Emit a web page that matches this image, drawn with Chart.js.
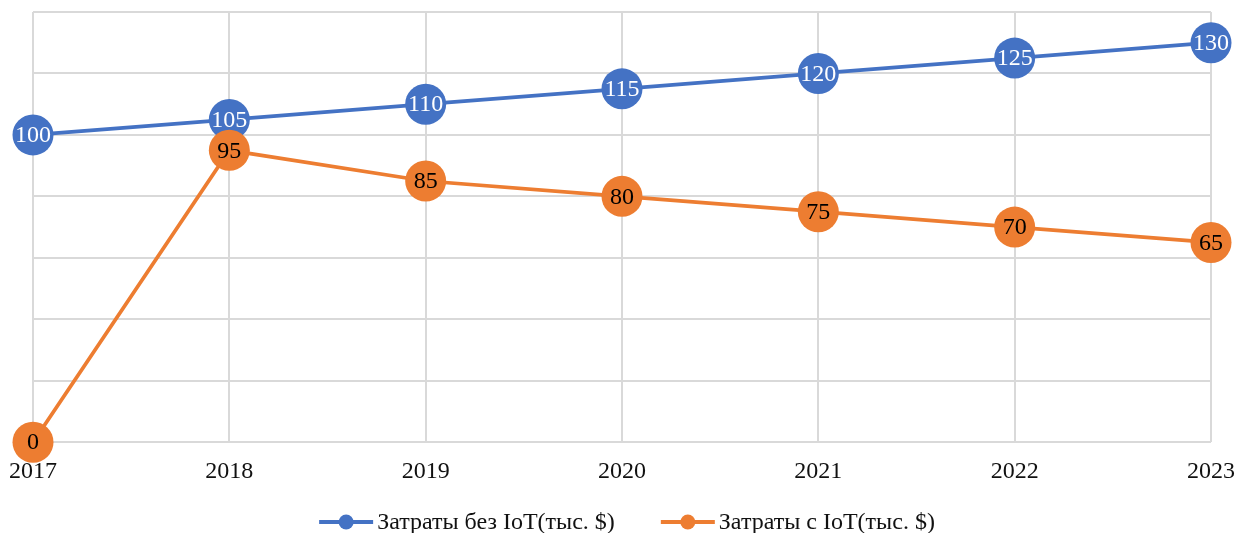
<!DOCTYPE html>
<html>
<head>
<meta charset="utf-8">
<script src="https://cdn.jsdelivr.net/npm/chart.js@4.4.1/dist/chart.umd.min.js"></script>
<style>
  html, body { margin: 0; padding: 0; background: #fff; }
  #wrap { width: 1237px; height: 533px; }
</style>
</head>
<body>
<div id="wrap"><canvas id="chart" width="1237" height="533"></canvas></div>
<script>
/* ── data ── */
const years      = ['2017', '2018', '2019', '2020', '2021', '2022', '2023'];
const withoutIoT = [100, 105, 110, 115, 120, 125, 130];
const withIoT    = [0, 95, 85, 80, 75, 70, 65];
const seriesNames = ['Затраты без IoT(тыс. $)', 'Затраты с IoT(тыс. $)'];

const BLUE   = '#4472C4';
const ORANGE = '#ED7D31';
const FONT   = '"Liberation Serif", "Times New Roman", serif';

/* values written inside the markers */
const pointLabels = {
  id: 'pointLabels',
  afterDatasetsDraw(chart) {
    const ctx = chart.ctx;
    ctx.save();
    ctx.font = '24px ' + FONT;
    ctx.textAlign = 'center';
    ctx.textBaseline = 'middle';
    chart.data.datasets.forEach((ds, i) => {
      const meta = chart.getDatasetMeta(i);
      ctx.fillStyle = ds.labelColor;
      meta.data.forEach((pt, j) => {
        ctx.fillText(String(ds.data[j]), pt.x, pt.y + 1);
      });
    });
    ctx.restore();
  }
};

/* legend in Excel style: short line with a dot, then the name */
const lineLegend = {
  id: 'lineLegend',
  afterDraw(chart) {
    const ctx = chart.ctx;
    const markW = 54, gap = 4, spacing = 46, y = 522;
    ctx.save();
    ctx.font = '24px ' + FONT;
    ctx.textBaseline = 'middle';
    const items = chart.data.datasets.map(ds => ({
      color: ds.borderColor, text: ds.label, w: ctx.measureText(ds.label).width
    }));
    const total = items.reduce((s, it) => s + markW + gap + it.w, 0) + spacing * (items.length - 1);
    let x = 627 - total / 2;
    items.forEach(it => {
      ctx.strokeStyle = it.color; ctx.lineWidth = 4;
      ctx.beginPath(); ctx.moveTo(x, y); ctx.lineTo(x + markW, y); ctx.stroke();
      ctx.fillStyle = it.color;
      ctx.beginPath(); ctx.arc(x + markW / 2, y, 7.5, 0, Math.PI * 2); ctx.fill();
      ctx.fillStyle = '#111';
      ctx.fillText(it.text, x + markW + gap, y + 1);
      x += markW + gap + it.w + spacing;
    });
    ctx.restore();
  }
};

new Chart(document.getElementById('chart'), {
  type: 'line',
  data: {
    labels: years,
    datasets: [
      {
        label: seriesNames[0],
        data: withoutIoT,
        borderColor: BLUE, backgroundColor: BLUE,
        pointBackgroundColor: BLUE, pointBorderColor: BLUE,
        borderWidth: 3.75, pointRadius: 20.5, pointHoverRadius: 20.5, pointBorderWidth: 0,
        tension: 0, clip: false, order: 1,
        labelColor: '#ffffff'
      },
      {
        label: seriesNames[1],
        data: withIoT,
        borderColor: ORANGE, backgroundColor: ORANGE,
        pointBackgroundColor: ORANGE, pointBorderColor: ORANGE,
        borderWidth: 3.75, pointRadius: 20.5, pointHoverRadius: 20.5, pointBorderWidth: 0,
        tension: 0, clip: false, order: 0,
        labelColor: '#000000'
      }
    ]
  },
  options: {
    responsive: false,
    animation: false,
    layout: { autoPadding: false, padding: { left: 33, right: 26, top: 12, bottom: 32 } },
    plugins: {
      tooltip: { enabled: false },
      legend: { display: false }
    },
    scales: {
      x: {
        offset: false,
        grid: { color: '#d9d9d9', lineWidth: 2, drawTicks: false },
        border: { display: false },
        ticks: { font: { family: FONT, size: 24 }, color: '#111', padding: 15, maxRotation: 0, autoSkip: false },
        afterFit: s => { s.paddingLeft = 0; s.paddingRight = 0; }
      },
      y: {
        min: 0, max: 140,
        grid: { color: '#d9d9d9', lineWidth: 2, drawTicks: false },
        border: { display: false },
        ticks: { display: false, stepSize: 20 },
        afterFit: s => { s.width = 0; }
      }
    }
  },
  plugins: [pointLabels, lineLegend]
});
</script>
</body>
</html>
